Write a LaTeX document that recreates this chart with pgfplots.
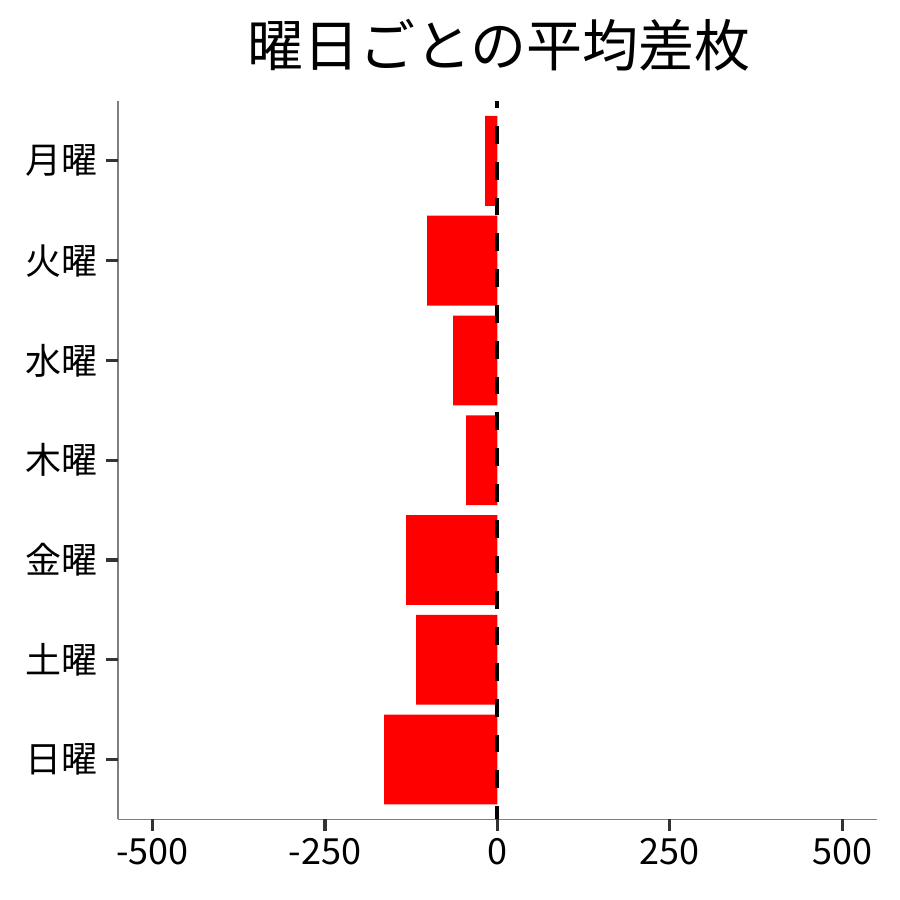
\documentclass[border=0pt]{standalone}
\usepackage{fontspec}
\setmainfont{Noto Sans CJK JP}
\usepackage{pgfplots}
\pgfplotsset{compat=1.18}
\definecolor{tickgray}{HTML}{333333}
\definecolor{axisgray}{HTML}{7F7F7F}
\begin{document}
\begin{tikzpicture}
\path (-59pt,-40.35pt) rectangle (391pt,409.65pt);
\begin{axis}[
  at={(0,0)}, anchor=south west,
  scale only axis, width=379.35pt, height=359.15pt,
  xmin=-550, xmax=550, ymin=-0.6, ymax=6.6,
  y dir=reverse,
  axis x line*=bottom, axis y line*=left,
  axis line style={axisgray, line width=0.75pt, -},
  xtick={-500,-250,0,250,500},
  xticklabels={-500,-250,0,250,500},
  ytick={0,1,2,3,4,5,6},
  yticklabels={月曜,火曜,水曜,木曜,金曜,土曜,日曜},
  tick align=outside,
  major tick length=0pt,
  ticklabel style={font=\fontsize{18}{18}\selectfont, text=black},
  xticklabel style={yshift=-5.75pt},
  yticklabel style={xshift=-6.55pt},
  clip=false,
]
\addplot[xbar, bar width=0.9, fill=red, draw=none] coordinates {
  (-17.8,0) (-101.8,1) (-64.1,2) (-45.3,3) (-132.2,4) (-117.7,5) (-164,6)
};
\addplot[black, line width=2.1pt, dash pattern=on 8.9pt off 9pt, dash phase=5.4pt, mark=none] coordinates {(0,-0.6) (0,6.6)};
\foreach \t in {-500,-250,0,250,500} {
  \edef\temp{\noexpand\draw[tickgray, line width=1.6pt] (axis cs:\t,6.6) -- ([yshift=-5.75pt]axis cs:\t,6.6);}
  \temp
}
\foreach \t in {0,...,6} {
  \edef\temp{\noexpand\draw[tickgray, line width=1.6pt] (axis cs:-550,\t) -- ([xshift=-5.75pt]axis cs:-550,\t);}
  \temp
}
\end{axis}
\node[inner sep=0pt, font=\fontsize{28}{28}\selectfont] at (190.5pt,387.15pt) {曜日ごとの平均差枚};
\end{tikzpicture}
\end{document}
